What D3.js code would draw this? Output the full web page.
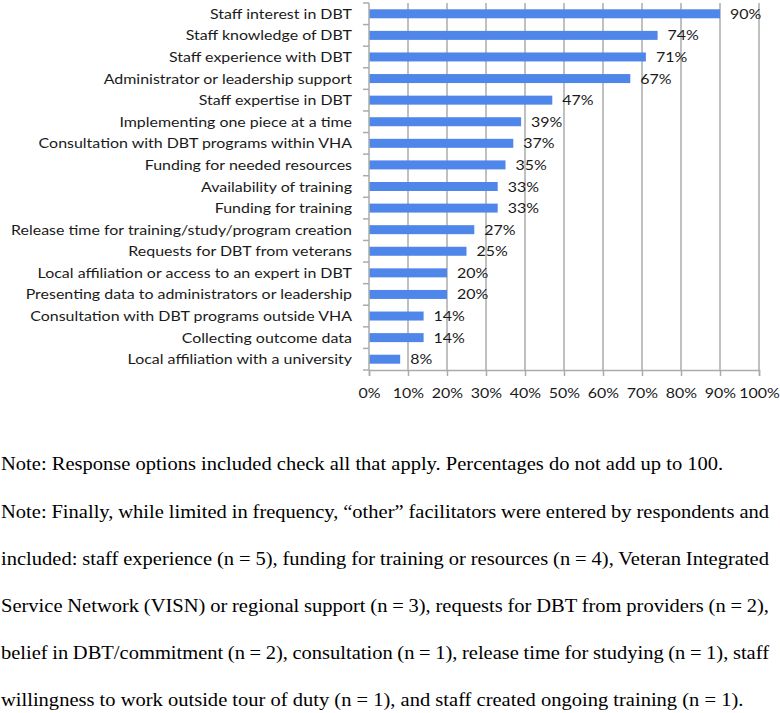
<!DOCTYPE html>
<html>
<head>
<meta charset="utf-8">
<script src="https://cdn.jsdelivr.net/npm/d3@7"></script>
<style>
  body { margin: 0; background: #fff; }
  svg { display: block; }
  .cat, .val, .x.axis text { font-family: Lato, "Open Sans", sans-serif; font-size: 14px; fill: #1a1a1a; }
  .note { font-family: "Liberation Serif", "Times New Roman", serif; font-size: 18px; fill: #000; }
</style>
</head>
<body>
<div id="chart"></div>
<script>
// categories, top to bottom
const categories = [
    "Staff interest in DBT",
    "Staff knowledge of DBT",
    "Staff experience with DBT",
    "Administrator or leadership support",
    "Staff expertise in DBT",
    "Implementing one piece at a time",
    "Consultation with DBT programs within VHA",
    "Funding for needed resources",
    "Availability of training",
    "Funding for training",
    "Release time for training/study/program creation",
    "Requests for DBT from veterans",
    "Local affiliation or access to an expert in DBT",
    "Presenting data to administrators or leadership",
    "Consultation with DBT programs outside VHA",
    "Collecting outcome data",
    "Local affiliation with a university"
];
const percents = [90, 74, 71, 67, 47, 39, 37, 35, 33, 33, 27, 25, 20, 20, 14, 14, 8];
const xTicks = [0, 10, 20, 30, 40, 50, 60, 70, 80, 90, 100];

const noteLines = [
    "Note: Response options included check all that apply. Percentages do not add up to 100.",
    "Note: Finally, while limited in frequency, \u201cother\u201d facilitators were entered by respondents and",
    "included: staff experience (n = 5), funding for training or resources (n = 4), Veteran Integrated",
    "Service Network (VISN) or regional support (n = 3), requests for DBT from providers (n = 2),",
    "belief in DBT/commitment (n = 2), consultation (n = 1), release time for studying (n = 1), staff",
    "willingness to work outside tour of duty (n = 1), and staff created ongoing training (n = 1)."
];
// lines that run to the right margin (justified)
const justified = [false, true, true, true, true, false];

const W = 780, H = 713;
const plot = { left: 369, right: 759, top: 3, bottom: 370 };
const stretch = 1.14;   // the source text is set a little wide

const svg = d3.select("#chart").append("svg")
    .attr("width", W)
    .attr("height", H);

const x = d3.scaleLinear().domain([0, 100]).range([plot.left, plot.right]);
const y = d3.scaleBand().domain(categories).range([plot.top, plot.bottom]);
const mid = d => y(d) + y.bandwidth() / 2;

const gridColor = "#a8acab";

// vertical gridlines
svg.append("g").selectAll("line")
    .data(xTicks.slice(1))
    .enter().append("line")
    .attr("x1", d => x(d)).attr("x2", d => x(d))
    .attr("y1", plot.top).attr("y2", plot.bottom)
    .attr("stroke", gridColor)
    .attr("stroke-width", 1.5);

// bars
svg.append("g").selectAll("rect")
    .data(categories)
    .enter().append("rect")
    .attr("x", x(0))
    .attr("y", d => mid(d) - 4.5)
    .attr("width", (d, i) => x(percents[i]) - x(0))
    .attr("height", 9)
    .attr("fill", "#4f86ea");

// value labels
svg.append("g").selectAll("text")
    .data(categories)
    .enter().append("text")
    .attr("class", "val")
    .attr("transform", (d, i) => `translate(${x(percents[i]) + 10},${mid(d) + 5}) scale(${stretch},1)`)
    .text((d, i) => percents[i] + "%");

// y axis line and ticks
const yAxis = svg.append("g");
yAxis.append("line")
    .attr("x1", plot.left).attr("x2", plot.left)
    .attr("y1", plot.top).attr("y2", plot.bottom)
    .attr("stroke", gridColor).attr("stroke-width", 1.5);
yAxis.selectAll(".tk")
    .data(d3.range(categories.length + 1))
    .enter().append("line")
    .attr("x1", plot.left - 6).attr("x2", plot.left)
    .attr("y1", i => plot.top + i * y.step())
    .attr("y2", i => plot.top + i * y.step())
    .attr("stroke", gridColor).attr("stroke-width", 1.5);
yAxis.selectAll(".cat")
    .data(categories)
    .enter().append("text")
    .attr("class", "cat")
    .attr("text-anchor", "end")
    .attr("transform", d => `translate(${plot.left - 17},${mid(d) + 5}) scale(${stretch},1)`)
    .text(d => d);

// x axis
const xAxis = svg.append("g")
    .attr("class", "x axis")
    .attr("transform", `translate(0,${plot.bottom})`)
    .call(d3.axisBottom(x).tickValues(xTicks).tickSize(6).tickPadding(12).tickFormat(d => d + "%"));
xAxis.select(".domain").attr("stroke", gridColor).attr("stroke-width", 1.5);
xAxis.selectAll(".tick line").attr("stroke", gridColor).attr("stroke-width", 1.5);
xAxis.selectAll(".tick text").attr("transform", `scale(${stretch},1)`);

// notes below the chart
const noteLeft = 1, noteRight = 769;
const baselines = [470, 518, 565, 612, 659, 706];
svg.append("g")
    .attr("transform", `translate(${noteLeft},0) scale(${stretch},1)`)
    .selectAll("text")
    .data(noteLines)
    .enter().append("text")
    .attr("class", "note")
    .attr("x", 0)
    .attr("y", (d, i) => baselines[i])
    .text(d => d)
    .each(function(d, i) {
        if (!justified[i]) return;
        const len = this.getComputedTextLength();
        const spaces = (d.match(/ /g) || []).length;
        const extra = ((noteRight - noteLeft) / stretch - len) / spaces;
        d3.select(this).attr("word-spacing", extra);
    });
</script>
</body>
</html>
